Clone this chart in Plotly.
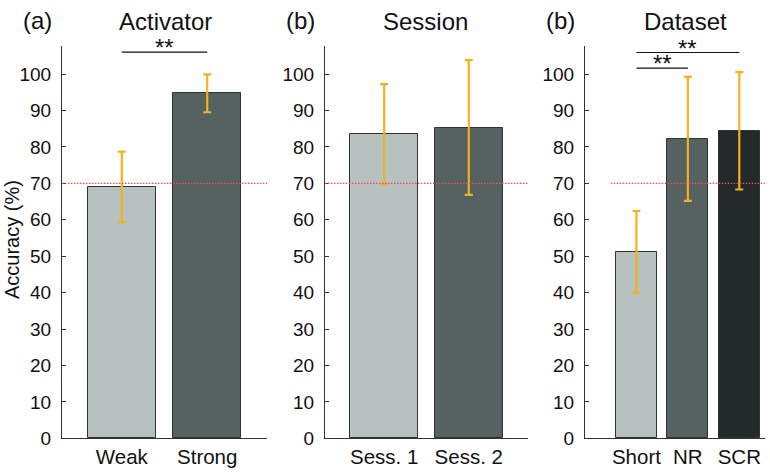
import plotly.graph_objects as go

# ---- data ----
act_cats = ["Weak", "Strong"]
act_vals = [69.0, 94.7]
act_err = [9.7, 5.2]

sess_cats = ["Sess. 1", "Sess. 2"]
sess_vals = [83.5, 85.3]
sess_err = [13.7, 18.5]

data_cats = ["Short", "NR", "SCR"]
data_vals = [51.2, 82.2, 84.4]
data_err = [11.2, 17.0, 16.1]

threshold = 70
y_ticks = [0, 10, 20, 30, 40, 50, 60, 70, 80, 90, 100]

panel_titles = ["Activator", "Session", "Dataset"]
panel_letters = ["(a)", "(b)", "(b)"]

# significance brackets: (panel, i, j, y)
sig_brackets = [(0, 1, 2, 106.0), (2, 1, 3, 105.9), (2, 1, 2, 101.6)]

# ---- style ----
W, H = 770, 474
FONT = "Liberation Sans, Arial, Helvetica, sans-serif"
light, mid, dark = "#b7c1bf", "#566261", "#232828"
orange = "#f3b11c"
edge = "#2e3333"
axcol = "#333333"

y_bot, y_top = 438.3, 46.0
ymax = (y_bot - y_top) / ((y_bot - 74.0) / 100.0)

panels = [
    dict(cats=act_cats, vals=act_vals, err=act_err, colors=[light, mid],
         px=(62, 267), xr=(0.3, 2.7), red0=0.3),
    dict(cats=sess_cats, vals=sess_vals, err=sess_err, colors=[light, mid],
         px=(325, 528), xr=(0.3, 2.7), red0=0.3),
    dict(cats=data_cats, vals=data_vals, err=data_err, colors=[light, mid, dark],
         px=(585, 765), xr=(0.0, 3.5), red0=0.5),
]

fig = go.Figure()
ydom = [(H - y_bot) / H, (H - y_top) / H]

for k, p in enumerate(panels):
    xa = "x" if k == 0 else f"x{k+1}"
    ya = "y" if k == 0 else f"y{k+1}"
    xs = list(range(1, len(p["cats"]) + 1))
    fig.add_trace(go.Bar(
        x=xs, y=p["vals"], width=0.8, xaxis=xa, yaxis=ya,
        marker=dict(color=p["colors"], line=dict(color=edge, width=1)),
        error_y=dict(type="data", array=p["err"], visible=True,
                     color=orange, thickness=2.2, width=4),
        showlegend=False, hoverinfo="skip",
    ))
    xkey = "xaxis" if k == 0 else f"xaxis{k+1}"
    ykey = "yaxis" if k == 0 else f"yaxis{k+1}"
    fig.layout[xkey] = dict(
        domain=[p["px"][0] / W, p["px"][1] / W], range=list(p["xr"]),
        anchor=ya, tickvals=xs, ticktext=p["cats"], ticks="",
        showline=True, linecolor=axcol, linewidth=1, showgrid=False,
        zeroline=False, tickfont=dict(family=FONT, size=20.5, color="#111"),
        fixedrange=True, automargin=False,
    )
    fig.layout[ykey] = dict(
        domain=ydom, range=[0, ymax], anchor=xa, tickvals=y_ticks,
        ticks="inside", ticklen=4, tickcolor=axcol, showline=True,
        linecolor=axcol, linewidth=1, showgrid=False, zeroline=False,
        tickfont=dict(family=FONT, size=19, color="#111"),
        ticklabelstandoff=6, fixedrange=True, automargin=False,
    )
    # threshold line
    fig.add_shape(type="line", xref=xa, yref=ya, x0=p["red0"], x1=p["xr"][1],
                  y0=threshold, y1=threshold, layer="above",
                  line=dict(color="#ff4a4a", width=1.3, dash="1.5px,1.5px"))

# significance brackets
for (k, i, j, yv) in sig_brackets:
    xa = "x" if k == 0 else f"x{k+1}"
    ya = "y" if k == 0 else f"y{k+1}"
    fig.add_shape(type="line", xref=xa, yref=ya, x0=i, x1=j, y0=yv, y1=yv,
                  line=dict(color="#111", width=1.2))
    fig.add_annotation(xref=xa, yref=ya, x=(i + j) / 2, y=yv, text="**",
                       showarrow=False, yanchor="bottom", yshift=-11,
                       font=dict(family=FONT, size=24, color="#111"))

# titles and letters
title_x = [165, 425, 685]
letter_x = [37, 300, 560]
for k in range(3):
    fig.add_annotation(xref="paper", yref="paper", x=title_x[k] / W,
                       y=(H - 21) / H, text=panel_titles[k], showarrow=False,
                       xanchor="center", yanchor="middle",
                       font=dict(family=FONT, size=24, color="#111"))
    fig.add_annotation(xref="paper", yref="paper", x=letter_x[k] / W,
                       y=(H - 20) / H, text=panel_letters[k], showarrow=False,
                       xanchor="center", yanchor="middle",
                       font=dict(family=FONT, size=24, color="#111"))

fig.add_annotation(xref="paper", yref="paper", x=12 / W, y=(H - 240) / H,
                   text="Accuracy (%)", textangle=-90, showarrow=False,
                   xanchor="center", yanchor="middle",
                   font=dict(family=FONT, size=20, color="#111"))

fig.update_layout(width=W, height=H,
                  margin=dict(l=0, r=0, t=0, b=0, autoexpand=False),
                  plot_bgcolor="white", paper_bgcolor="white",
                  bargap=0, showlegend=False)

fig.write_html("out.html", config={"displayModeBar": False},
               post_script="document.body.style.margin='0';"
                           "document.body.style.overflow='hidden';")
